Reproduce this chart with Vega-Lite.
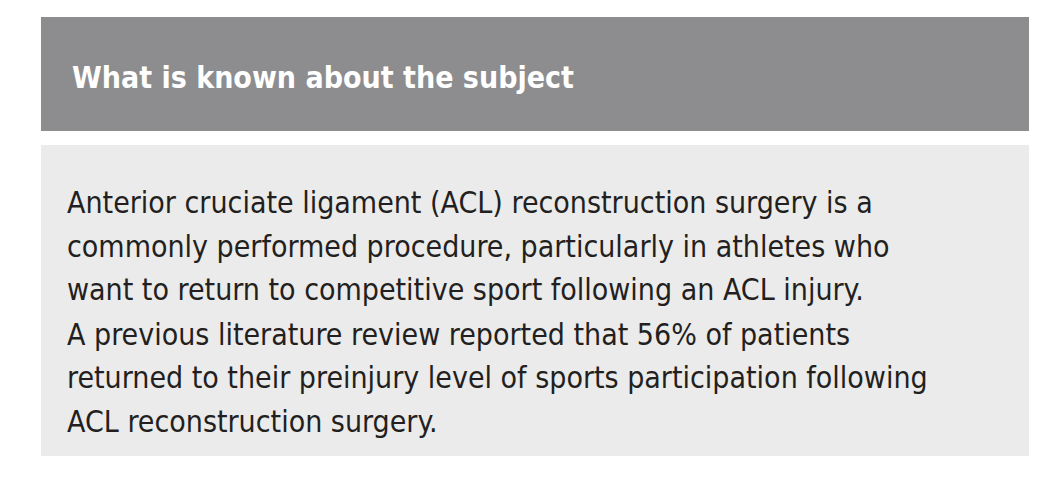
{
  "$schema": "https://vega.github.io/schema/vega-lite/v6.json",
  "width": 1058,
  "height": 477,
  "padding": 0,
  "autosize": {"type": "fit", "contains": "padding"},
  "background": "white",
  "config": {"view": {"stroke": null}},
  "datasets": {
    "boxes": [
      {"box": "header", "x0": 41, "x1": 1029, "y0": 17, "y1": 131, "fill": "#8d8d8f"},
      {"box": "body", "x0": 41, "x1": 1029, "y0": 145, "y1": 456, "fill": "#ebebeb"}
    ],
    "lines": [
      {"line": 1, "text": "Anterior cruciate ligament (ACL) reconstruction surgery is a", "y": 213},
      {"line": 2, "text": "commonly performed procedure, particularly in athletes who", "y": 257},
      {"line": 3, "text": "want to return to competitive sport following an ACL injury.", "y": 300},
      {"line": 4, "text": "A previous literature review reported that 56% of patients", "y": 345},
      {"line": 5, "text": "returned to their preinjury level of sports participation following", "y": 388},
      {"line": 6, "text": "ACL reconstruction surgery.", "y": 432}
    ]
  },
  "layer": [
    {
      "data": {"name": "boxes"},
      "mark": {"type": "rect"},
      "encoding": {
        "x": {"field": "x0", "type": "quantitative", "scale": {"domain": [0, 1058]}, "axis": null},
        "x2": {"field": "x1"},
        "y": {"field": "y0", "type": "quantitative", "scale": {"domain": [477, 0]}, "axis": null},
        "y2": {"field": "y1"},
        "color": {"field": "fill", "type": "nominal", "scale": null}
      }
    },
    {
      "data": {"values": [{"text": "What is known about the subject", "x": 72, "y": 88}]},
      "mark": {"type": "text", "align": "left", "baseline": "alphabetic", "font": "DejaVu Sans Condensed", "fontWeight": "bold", "fontSize": 30, "color": "white"},
      "encoding": {
        "x": {"field": "x", "type": "quantitative", "scale": {"domain": [0, 1058]}, "axis": null},
        "y": {"field": "y", "type": "quantitative", "scale": {"domain": [477, 0]}, "axis": null},
        "text": {"field": "text"}
      }
    },
    {
      "data": {"name": "lines"},
      "mark": {"type": "text", "align": "left", "baseline": "alphabetic", "font": "DejaVu Sans Condensed", "fontSize": 30, "color": "#231f20", "x": 67},
      "encoding": {
        "y": {"field": "y", "type": "quantitative", "scale": {"domain": [477, 0]}, "axis": null},
        "text": {"field": "text"}
      }
    }
  ]
}
